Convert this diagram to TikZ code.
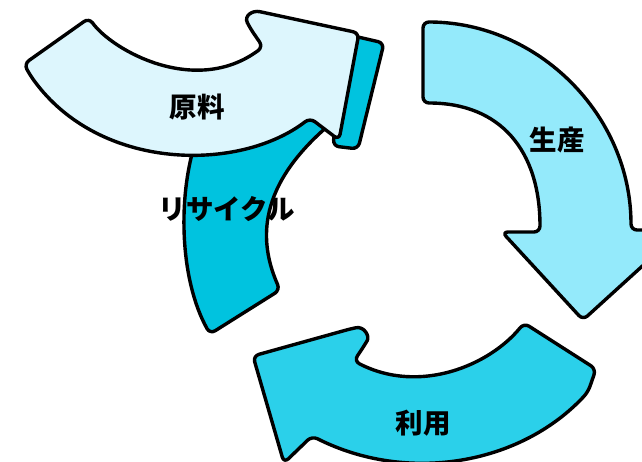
\documentclass[tikz,border=0pt]{standalone}
\usepackage{fontspec}
\newfontfamily\cjk{Noto Sans CJK JP}
\definecolor{cGenryo}{HTML}{DDF6FD}
\definecolor{cRecyc}{HTML}{00C3DF}
\definecolor{cSeisan}{HTML}{94EAFB}
\definecolor{cRiyou}{HTML}{2BD0EA}
\begin{document}
\begin{tikzpicture}[x=1pt,y=-1pt,
  arr/.style={draw=black, line width=3.4pt, line join=round, rounded corners=6pt},
  lbl/.style={font=\cjk\bfseries\fontsize{27.5}{27.5}\selectfont, text=black, inner sep=0pt}]
\useasboundingbox (0,0) rectangle (642,462);
\clip (0,0) rectangle (642,462);
% 利用
\path[arr, fill=cRiyou] (524,323) .. controls (490,365) and (420,395) .. (354,361)
  -- (364,346) .. controls (370,336) and (364,326) .. (350,329)
  -- (253,356) -- (284,463) -- (312,436)
  .. controls (407,484) and (520,465) .. (588,392) -- (596,369) -- cycle;
% 生産
\path[arr, fill=cSeisan] (423,22) .. controls (538,22) and (631,115) .. (631,230)
  -- (682,230) -- (583,320) -- (502,232) -- (540,232)
  .. controls (540,150) and (500,103) .. (423,103) -- cycle;
% リサイクル
\path[arr, fill=cRecyc] (200,120) -- (196,140) .. controls (178,200) and (180,280) .. (210,334)
  -- (280,290) .. controls (258,240) and (258,185) .. (335,120) -- (320,90) -- cycle;
\path[arr, fill=cRecyc] (345,34) -- (384,43) -- (358,149) -- (333,146) -- cycle;
% 原料
\path[arr, fill=cGenryo] (24,64) -- (89,18) .. controls (112,50) and (195,97) .. (263,47)
  -- (250,28) .. controls (244,16) and (252,10) .. (266,13)
  -- (359,33) -- (339,140) -- (310,118)
  .. controls (240,172) and (100,172) .. (30,75) -- cycle;
% labels
\node[lbl] (genryo) at (197,107) {原料};
\node[lbl] (seisan) at (557,140) {生産};
\node[lbl] (riyou) at (423,423) {利用};
\node[lbl] (recycle) at (227,209) {リサイクル};
\end{tikzpicture}
\end{document}
